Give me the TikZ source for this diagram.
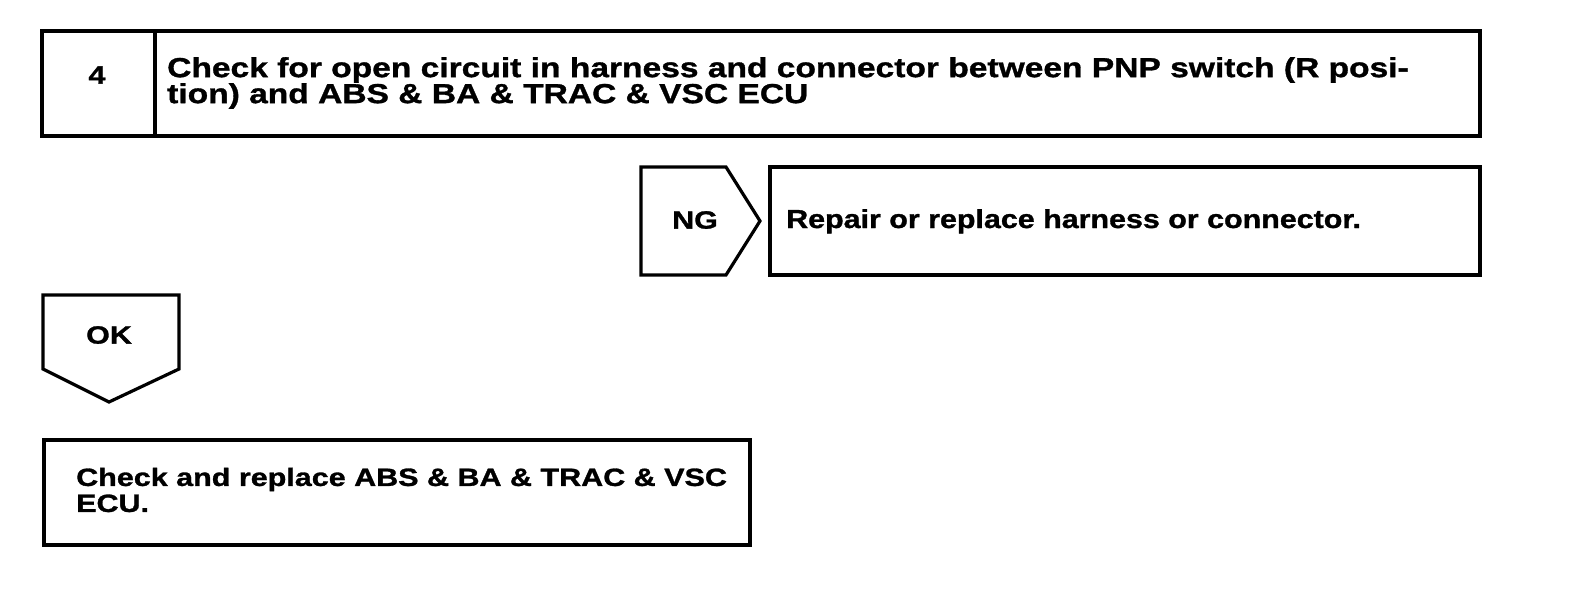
\documentclass[tikz,border=0pt]{standalone}
\usepackage{fontspec}
\setmainfont{Liberation Sans}
\newfontfamily\widefont[FakeStretch=1.22,FakeBold=1.2]{Liberation Sans}
\newfontfamily\midfont[FakeStretch=1.17,FakeBold=1.2]{Liberation Sans}
\begin{document}
\begin{tikzpicture}[x=1pt,y=-1pt,
  box/.style={draw=black,line width=3.2pt,line join=miter},
  txt/.style={inner sep=0pt,align=left,font=\widefont\bfseries\fontsize{27.5}{26}\selectfont},
  btxt/.style={inner sep=0pt,align=left,font=\widefont\bfseries\fontsize{25}{26}\selectfont},
  rtxt/.style={inner sep=0pt,align=left,font=\midfont\bfseries\fontsize{26}{30}\selectfont},
  lbl/.style={inner sep=0pt,font=\widefont\bfseries\fontsize{25}{30}\selectfont}]
\useasboundingbox (0,0) rectangle (1584,610);
% top box
\draw[box] (42,31) rectangle (1480,136);
\draw[box] (155,31) -- (155,136);
\node[lbl] (num) at (97,75) {4};
\node[txt,anchor=west] (title) at (167,83) {Check for open circuit in harness and connector between PNP switch (R posi-\\tion) and ABS \& BA \& TRAC \& VSC ECU};
% NG
\draw[box] (641,167) -- (726,167) -- (760,221) -- (726,275) -- (641,275) -- cycle;
\node[lbl] (ng) at (695,220) {NG};
\draw[box] (770,167) rectangle (1480,275);
\node[rtxt,anchor=base west] (repair) at (786,228) {Repair or replace harness or connector.};
% OK
\draw[box] (43,295) -- (179,295) -- (179,369) -- (109,402) -- (43,369) -- cycle;
\node[lbl] (ok) at (109,335) {OK};
% bottom
\draw[box] (44,440) rectangle (750,545);
\node[btxt,anchor=west] (check) at (76,490) {Check and replace ABS \& BA \& TRAC \& VSC\\ECU.};
\end{tikzpicture}
\end{document}
